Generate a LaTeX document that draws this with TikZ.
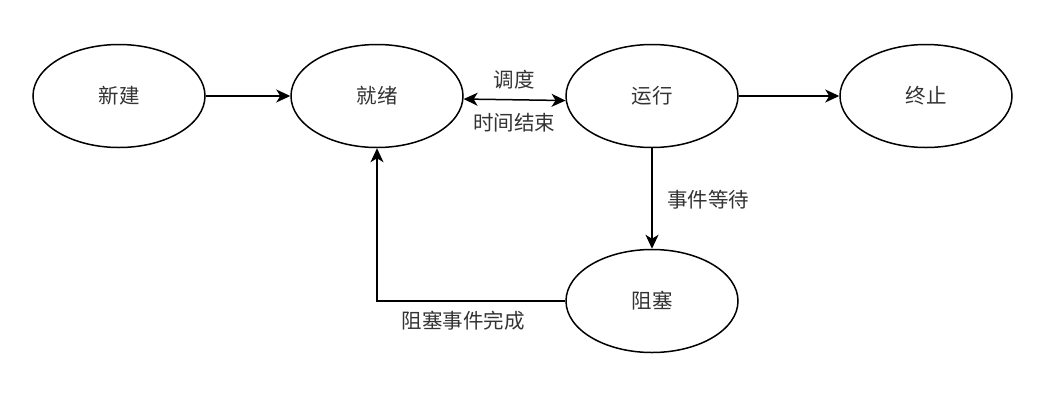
\documentclass[tikz,border=0pt]{standalone}
\usepackage{fontspec}
\newfontfamily\cjk{Noto Sans CJK SC}
\usepackage{xcolor}
\definecolor{TextGray}{RGB}{51, 51, 51}
\usepackage{tikz}
\usetikzlibrary{
  shapes.geometric,
  arrows.meta,
  positioning
}

\begin{document}
\begin{tikzpicture}[
  x=1pt, y=-1pt,
  font=\cjk\fontsize{20.5}{24}\selectfont,
  state/.style={
    draw=black, fill=white,
    ellipse, line width=1.5pt,
    minimum width=172pt,
    minimum height=103pt,
    inner sep=0pt,
    text=TextGray
  },
  arrow/.style={
    -{Stealth[length=14pt, width=13pt, inset=4pt]},
    line width=1.5pt},
  biarrow/.style={
    {Stealth[length=14pt, width=13pt, inset=4pt]}-{Stealth[length=14pt, width=13pt, inset=4pt]},
    line width=1.5pt},
  label/.style={
    text=TextGray, inner sep=2pt}
]

\useasboundingbox (0,0) rectangle (1040,405);

\node[state] (new)     at (119,96)  {新建};
\node[state] (ready)   at (377,96)  {就绪};
\node[state] (running) at (652,96)  {运行};
\node[state] (done)    at (926,96)  {终止};
\node[state] (blocked) at (652,301) {阻塞};

\draw[arrow] (new.east) -- (ready.west);
\draw[biarrow] (ready.-2) -- (running.183);
\draw[arrow] (running.east) -- (done.west);
\draw[arrow] (running.south) -- (blocked.north);
\draw[arrow] (blocked.west) -| (ready.south);

\node[label] (sched)  at (514,80)  {调度};
\node[label] (tmout)  at (514,123) {时间结束};
\node[label] (wait)   at (708,200) {事件等待};
\node[label] (finish) at (463,321) {阻塞事件完成};

\end{tikzpicture}
\end{document}
